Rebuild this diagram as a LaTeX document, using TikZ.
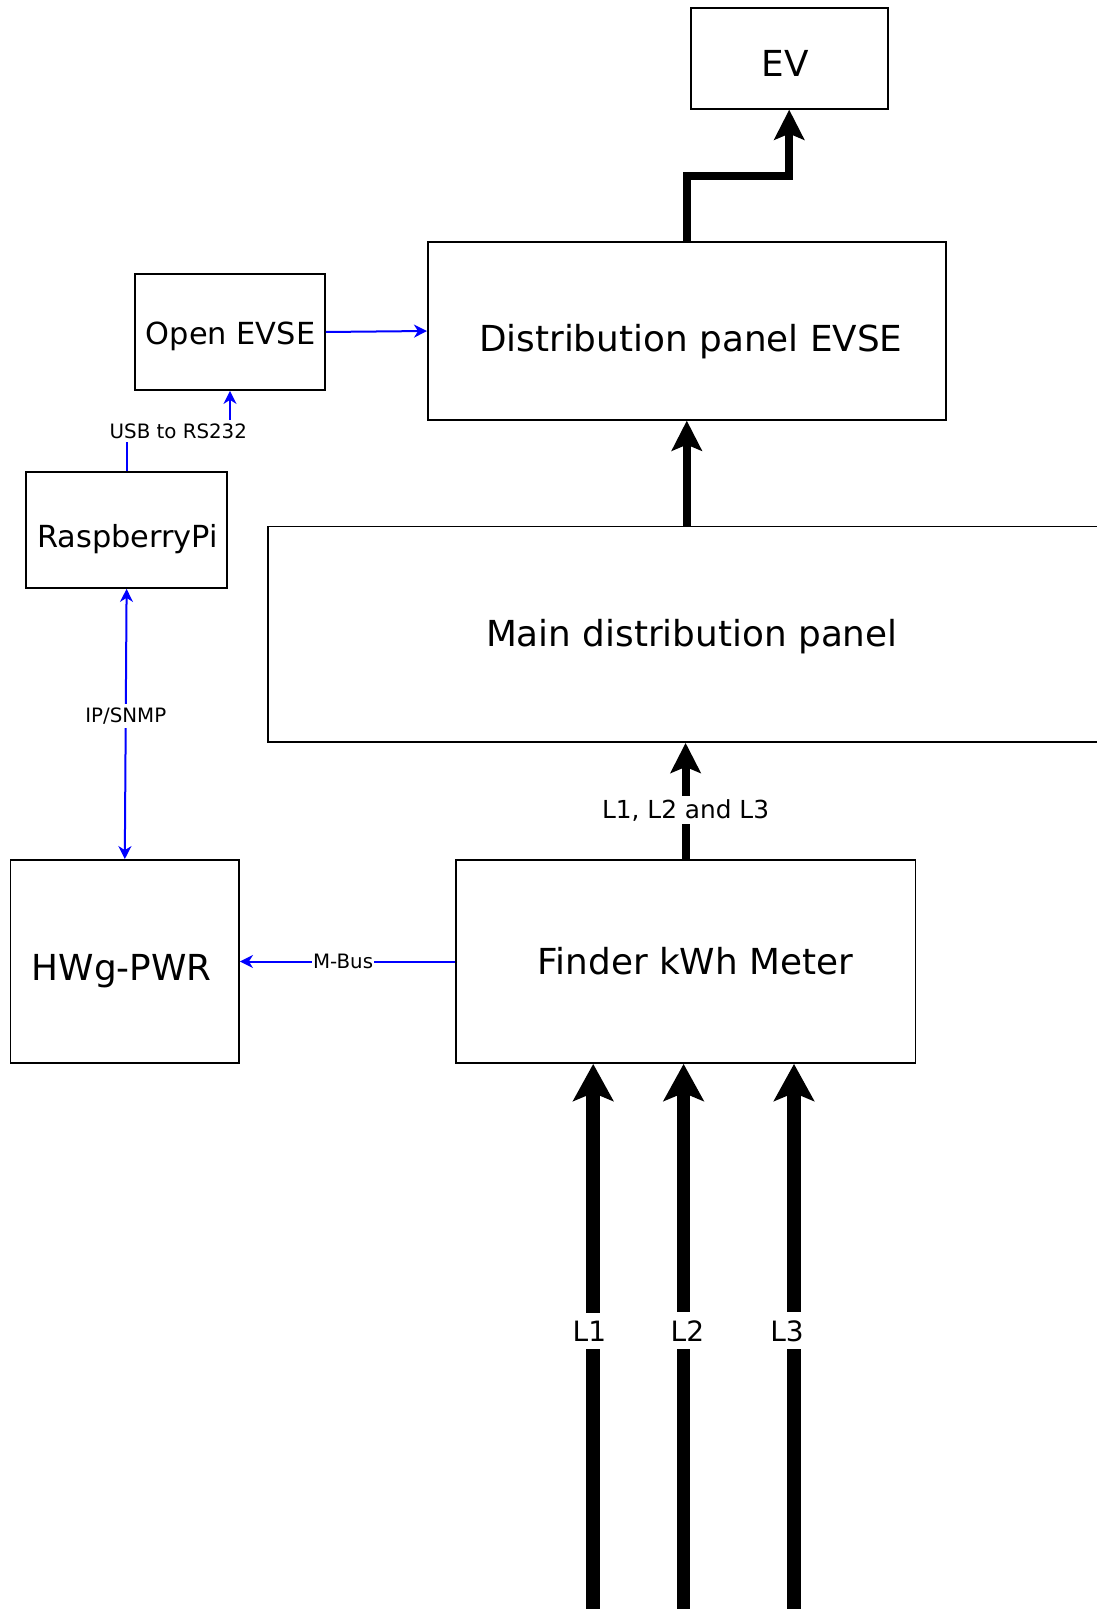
\documentclass[tikz,border=0pt]{standalone}
\usepackage{fontspec}
\setmainfont{DejaVu Sans}
\usetikzlibrary{arrows.meta,positioning}

\begin{document}
\begin{tikzpicture}[
		box/.style={draw=black, line width=0.9pt, rectangle, inner sep=0pt},
		bigtext/.style={font=\fontsize{17.9pt}{21pt}\selectfont, inner sep=0pt},
		midtext/.style={font=\fontsize{15.2pt}{18pt}\selectfont, inner sep=0pt},
		powertip/.tip={Stealth[length=15pt, width=15pt, inset=3pt]},
		phasetip/.tip={Stealth[length=18.5pt, width=20pt, inset=4pt]},
		sigtip/.tip={Stealth[length=6.5pt, width=6.5pt, inset=2pt]},
		power/.style={line width=4pt, -powertip},
		phase/.style={line width=6.8pt, -phasetip},
		signal/.style={draw=busBlue, line width=1pt},
		powerlabel/.style={fill=white, font=\fontsize{12.4pt}{15pt}\selectfont, inner xsep=1pt, inner ysep=1.5pt},
		phaselabel/.style={fill=white, font=\fontsize{14pt}{17pt}\selectfont, inner xsep=1pt, inner ysep=4pt},
		signallabel/.style={fill=white, text=black, font=\fontsize{9.9pt}{12pt}\selectfont, inner xsep=0.5pt, inner ysep=1.8pt}
	]
					\definecolor{busBlue}{RGB}{0, 0, 255}

					\useasboundingbox (0pt, 0pt) rectangle (548pt, -804.5pt);

					\node[box, minimum width=98.5pt, minimum height=50.3pt] (ev) at (394.6pt, -29.25pt) {};
					\node[box, minimum width=258.9pt, minimum height=88.75pt] (dist) at (343.4pt, -165.5pt) {};
					\node[box, minimum width=95pt, minimum height=58pt] (open) at (115pt, -166pt) {};
					\node[box, minimum width=100.65pt, minimum height=58pt] (pi) at (63.3pt, -265pt) {};
					\node[box, minimum width=423pt, minimum height=107.8pt] (main) at (345.4pt, -317.1pt) {};
					\node[box, minimum width=114.25pt, minimum height=101.5pt] (hwg) at (62.4pt, -480.75pt) {};
					\node[box, minimum width=229.95pt, minimum height=101.5pt] (finder) at (342.8pt, -480.75pt) {};

					\node[bigtext] (evtext) at ([xshift=-2pt, yshift=-2.6pt]ev.center) {EV};
					\node[bigtext] (disttext) at ([xshift=2pt, yshift=-5.1pt]dist.center) {Distribution panel EVSE};
					\node[midtext] (opentext) at ([xshift=0.3pt, yshift=-2pt]open.center) {Open EVSE};
					\node[midtext] (pitext) at ([xshift=0.5pt, yshift=-4.6pt]pi.center) {RaspberryPi};
					\node[bigtext] (maintext) at ([xshift=0.5pt, yshift=-1pt]main.center) {Main distribution panel};
					\node[bigtext] (hwgtext) at ([xshift=-1.5pt, yshift=-4.6pt]hwg.center) {HWg-PWR};
					\node[bigtext] (findertext) at ([xshift=4.9pt]finder.center) {Finder kWh Meter};

					\coordinate (l1) at (296.6pt, -810pt);
					\coordinate (l2) at (341.8pt, -810pt);
					\coordinate (l3) at (397pt, -810pt);

					\draw[phase] (l1) -- node[phaselabel, pos=0.52, xshift=-1.9pt] {L1} (l1 |- finder.south);
					\draw[phase] (l2) -- node[phaselabel, pos=0.52, xshift=1.9pt] {L2} (l2 |- finder.south);
					\draw[phase] (l3) -- node[phaselabel, pos=0.52, xshift=-3.5pt] {L3} (l3 |- finder.south);

					\draw[power] (finder.north) -- node[powerlabel, pos=0.42] {L1, L2 and L3} (finder.north |- main.south);
					\draw[power] (dist.south |- main.north) -- (dist.south);
					\draw[power] (dist.north) -- ++(0pt, 32.9pt) -| (ev.south);

					\draw[signal, -sigtip] (open.east) -- (dist.west);
					\draw[signal, -sigtip] (pi.north) -- ++(0pt, 20pt) -| node[signallabel, pos=0.25] {USB to RS232} (open.south);
					\draw[signal, sigtip-sigtip] (pi.south) -- node[signallabel, pos=0.47] {IP/SNMP} (hwg.north);
					\draw[signal, -sigtip] (finder.west) -- node[signallabel, pos=0.52] {M-Bus} (hwg.east);
				\end{tikzpicture}
\end{document}
